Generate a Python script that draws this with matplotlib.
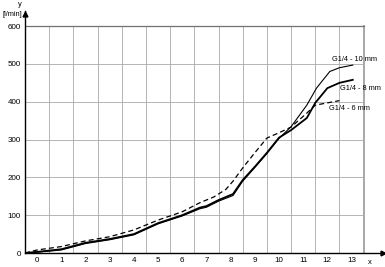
import matplotlib
matplotlib.use("Agg")
import matplotlib.pyplot as plt
import numpy as np

plt.rcParams['font.family'] = ['Liberation Sans', 'DejaVu Sans']

# data
x_6mm = [-0.5, 0, 1, 2, 3, 4, 5, 6, 6.73, 7.3, 7.8, 8.1, 8.5, 9, 9.5, 10, 10.5, 11.15, 11.5, 12, 12.5]
y_6mm = [0, 8, 17, 32, 43, 61, 87, 109, 133, 148, 168, 190, 225, 265, 304, 318, 333, 370, 391, 397, 403]

x_8mm = [-0.5, 0, 1, 2, 3, 4, 5, 6, 6.73, 7, 7.5, 8.1, 8.5, 9, 9.5, 10, 10.5, 11.15, 11.5, 12, 12.5, 13.05]
y_8mm = [0, 3, 10, 27, 37, 50, 79, 100, 120, 124, 140, 156, 193, 228, 265, 305, 325, 357, 397, 436, 450, 458]

x_10mm = [-0.5, 0, 1, 2, 3, 4, 5, 6, 6.73, 7, 7.5, 8.1, 8.5, 9, 9.5, 10, 10.5, 11.15, 11.55, 12.1, 12.5, 13.05]
y_10mm = [0, 2, 8, 25, 35, 48, 77, 98, 117, 121, 137, 152, 190, 226, 263, 303, 334, 391, 436, 480, 490, 497]

x_ticks = list(range(0, 14))
y_ticks = [0, 100, 200, 300, 400, 500, 600]
labels = ["G1/4 - 10 mm", "G1/4 - 8 mm", "G1/4 - 6 mm"]

fig = plt.figure(figsize=(3.85, 2.67), dpi=100)
ax = fig.add_axes([25/385, 14/267, 358/385, 242/267])
ax.set_xlim(-0.5, 14.3)
ax.set_ylim(0, 640)

# grid
for xv in np.arange(0.5, 13.0, 1.0):
    ax.plot([xv, xv], [0, 600], color='#a8a8a8', lw=0.6, zorder=1)
ax.plot([13.5, 13.5], [0, 600], color='#a0a0a0', lw=1.3, zorder=1)
for yv in y_ticks[1:-1]:
    ax.plot([-0.5, 13.5], [yv, yv], color='#a8a8a8', lw=0.6, zorder=1)
ax.plot([-0.5, 13.5], [600, 600], color='#707070', lw=0.9, zorder=1)

# curves
ax.plot(x_6mm, y_6mm, color='black', lw=0.9, ls=(0, (4, 2.5)), zorder=3)
ax.plot(x_8mm, y_8mm, color='black', lw=1.3, zorder=3)
ax.plot(x_10mm, y_10mm, color='black', lw=0.8, zorder=3)

ax.text(12.19, 513, labels[0], fontsize=5.3, va='center', ha='left')
ax.text(12.52, 434, labels[1], fontsize=5.3, va='center', ha='left')
ax.text(12.06, 381, labels[2], fontsize=5.3, va='center', ha='left')

# axes styling
for s in ['top', 'right']:
    ax.spines[s].set_visible(False)
ax.spines['left'].set_linewidth(1.0)
ax.spines['bottom'].set_linewidth(1.0)
ax.set_xticks(x_ticks)
ax.set_xticklabels([str(v) for v in x_ticks], fontsize=5.8)
ax.set_yticks(y_ticks)
ax.set_yticklabels([str(v) for v in y_ticks], fontsize=5.8)
ax.tick_params(axis='both', length=0, pad=3)

# arrows
ax.plot([14.3], [0], marker='>', color='black', markersize=3.5, clip_on=False)
ax.plot([-0.5], [632], marker='^', color='black', markersize=3.5, clip_on=False)

fig.text(370/385, 1 - 262/267, 'x', fontsize=5.5, ha='center', va='center')
fig.text(20/385, 1 - 5/267, 'y', fontsize=5.5, ha='center', va='center')
fig.text(12/385, 1 - 15/267, '[l/min]', fontsize=5.3, ha='center', va='center')

fig.savefig('out.png', dpi=100)
